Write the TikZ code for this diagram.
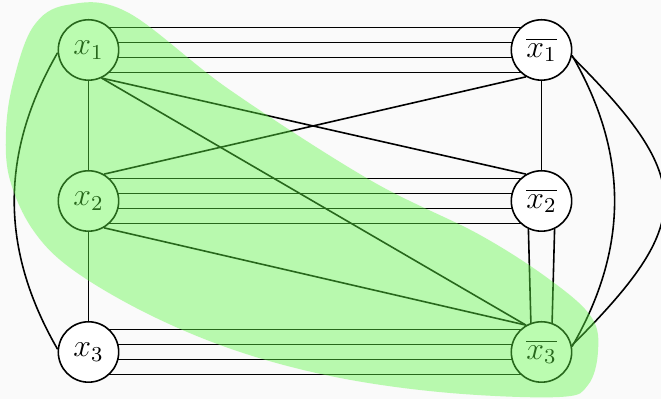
\documentclass[tikz,border=0pt]{standalone}
\definecolor{canvas}{HTML}{FAFAFA}
\definecolor{regiongreen}{RGB}{95,248,69}
\pgfdeclarelayer{background}
\pgfsetlayers{background,main}

\begin{document}
\begin{tikzpicture}[
    vertex/.style={circle, draw, fill=white, semithick, minimum size=0.8cm, inner sep=0pt, font=\large},
    link/.style={semithick},
]
\useasboundingbox (-1.172,-0.623) rectangle (7.583,4.662);

% Literals
\node[vertex] (x1) at (0, 4) {$x_1$};
\node[vertex] (x2) at (0, 2) {$x_2$};
\node[vertex] (x3) at (0, 0) {$x_3$};
\node[vertex] (nx1) at (6, 4) {$\overline{x_1}$};
\node[vertex] (nx2) at (6, 2) {$\overline{x_2}$};
\node[vertex] (nx3) at (6, 0) {$\overline{x_3}$};

\begin{pgfonlayer}{background}
\fill[canvas] (-1.172,-0.623) rectangle (7.583,4.662);

% Bundles between a literal and its negation
\foreach \s in {-3,-1,1,3} {
  \draw[link] ([yshift=\s mm]x1.center) -- ([yshift=\s mm]nx1.center);
  \draw[link] ([yshift=\s mm]x2.center) -- ([yshift=\s mm]nx2.center);
  \draw[link] ([yshift=\s mm]x3.center) -- ([yshift=\s mm]nx3.center);
}

% Vertical edges
\draw[link] (x1) -- (x2);
\draw[link] (x2) -- (x3);
\draw[link] (nx1) -- (nx2);
\draw[link] (nx2.-115) -- (nx3.110);
\draw[link] (nx2.-65) -- (nx3.70);

% Diagonals
\draw[link] (x1.-65) -- (nx2.120);
\draw[link] (x1.-65) -- (nx3.120);
\draw[link] (x2.60) -- (nx1.-120);
\draw[link] (x2.-60) -- (nx3.120);

% Outer curves
\draw[link] (x1.185) to[out=240, in=120] (x3.175);
\draw[link] (nx1.-10) to[out=-60, in=60] (nx3.10);
\draw[link] (nx1.-12) to[out=-45, in=45, looseness=1.55] (nx3.12);
\end{pgfonlayer}

% Highlighted region
\fill[regiongreen, fill opacity=0.42] plot[smooth cycle, tension=0.6] coordinates {
  (-0.285, 4.596) (0.510, 4.503) (1.874, 3.470) (3.728, 2.278) (5.185, 1.550)
  (6.152, 0.927) (6.669, 0.450) (6.748, 0) (6.616, -0.437) (6.245, -0.596)
  (4.788, -0.543) (3.331, -0.344) (2.007, 0) (0.815, 0.490) (-0.205, 1.086)
  (-0.735, 1.616) (-1.040, 2.278) (-1.093, 2.901) (-1.0, 3.563) (-0.735, 4.305)
};

\end{tikzpicture}
\end{document}
